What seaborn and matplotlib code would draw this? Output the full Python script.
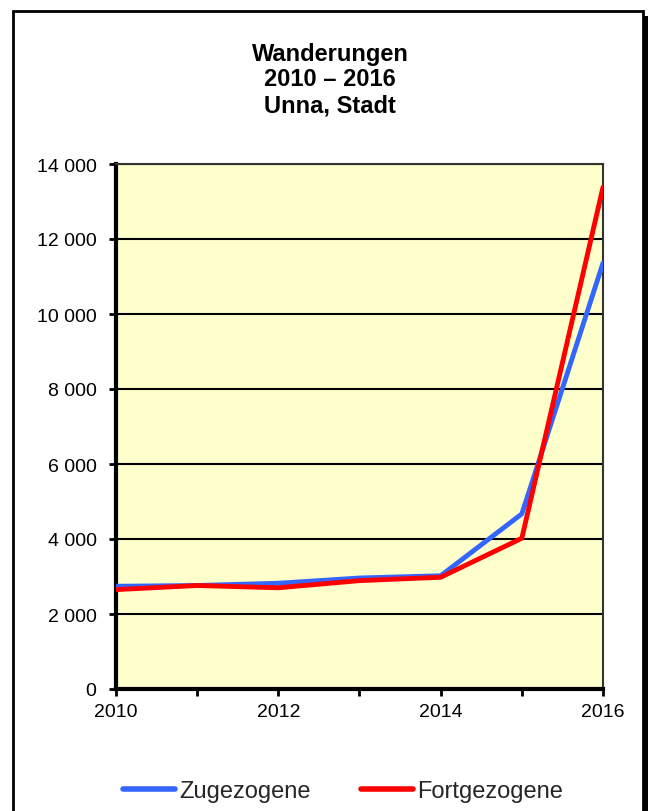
import matplotlib
matplotlib.use("Agg")
import matplotlib.pyplot as plt
import seaborn as sns
import pandas as pd
from matplotlib.patches import Rectangle
from matplotlib.ticker import FuncFormatter, MultipleLocator

years = [2010, 2011, 2012, 2013, 2014, 2015, 2016]
zugezogene = [2740, 2760, 2820, 2960, 3020, 4670, 11360]
fortgezogene = [2650, 2760, 2700, 2890, 2980, 4020, 13380]
series_names = ["Zugezogene", "Fortgezogene"]
colors = ["#3366FF", "#FF0000"]

df = pd.DataFrame({
    "Jahr": years * 2,
    "Wert": zugezogene + fortgezogene,
    "Reihe": [series_names[0]] * len(years) + [series_names[1]] * len(years),
})

sns.set_theme(style="white")
plt.rcParams["font.family"] = ["Liberation Sans", "DejaVu Sans"]

W, H = 648, 812
fig = plt.figure(figsize=(W / 100, H / 100), dpi=100)

# outer frame with shadow
fig.patches.append(Rectangle((643 / W, -0.05), 5 / W, 1 - 17 / H + 0.05,
                             transform=fig.transFigure, facecolor="black",
                             edgecolor="none", zorder=-3))
fig.patches.append(Rectangle((13 / W, -0.05), (643 - 13) / W, 1 - 12 / H + 0.05,
                             transform=fig.transFigure, facecolor="white",
                             edgecolor="black", linewidth=2, zorder=-2))

left, right, top, bottom = 116, 603, 165, 690
ax = fig.add_axes([left / W, 1 - bottom / H, (right - left) / W, (bottom - top) / H])
ax.set_zorder(2)
ax.set_facecolor("#FFFFCC")

sns.lineplot(data=df, x="Jahr", y="Wert", hue="Reihe", palette=colors,
             linewidth=3.5, ax=ax, legend=False, zorder=3)

ax.set_xlim(2010, 2016)
ax.set_ylim(0, 14000)
ax.yaxis.set_major_locator(MultipleLocator(2000))
ax.set_xticks(years)
ax.set_xticklabels([str(y) if y % 2 == 0 else "" for y in years])
ax.yaxis.set_major_formatter(FuncFormatter(lambda v, p: f"{int(v):,}".replace(",", " ")))
ax.grid(axis="y", color="black", linewidth=1.5, zorder=1)
ax.set_axisbelow(True)
ax.set_xlabel("")
ax.set_ylabel("")
ax.tick_params(axis="both", which="major", direction="out", length=5, width=2,
               color="black", labelsize=14, labelcolor="black", bottom=True, left=True)
ax.tick_params(axis="x", pad=5)
ax.tick_params(axis="y", pad=9)
for s in ["left", "bottom"]:
    ax.spines[s].set_color("black")
    ax.spines[s].set_linewidth(3)
for s in ["top", "right"]:
    ax.spines[s].set_color("#333333")
    ax.spines[s].set_linewidth(1.5)

fig.text(330 / W, 1 - 80 / H, "Wanderungen\n2010 – 2016\nUnna, Stadt",
         ha="center", va="center", fontsize=17, fontweight="bold",
         linespacing=1.15, color="black")

handles = [plt.Line2D([], [], color=c, linewidth=4, solid_capstyle="round") for c in colors]
fig.legend(handles, series_names, loc="center", bbox_to_anchor=(343 / W, 1 - 792 / H),
           ncol=2, frameon=False, fontsize=17, handlelength=2.2, handletextpad=0.2,
           columnspacing=2.1)

fig.savefig("out.png", dpi=100)
